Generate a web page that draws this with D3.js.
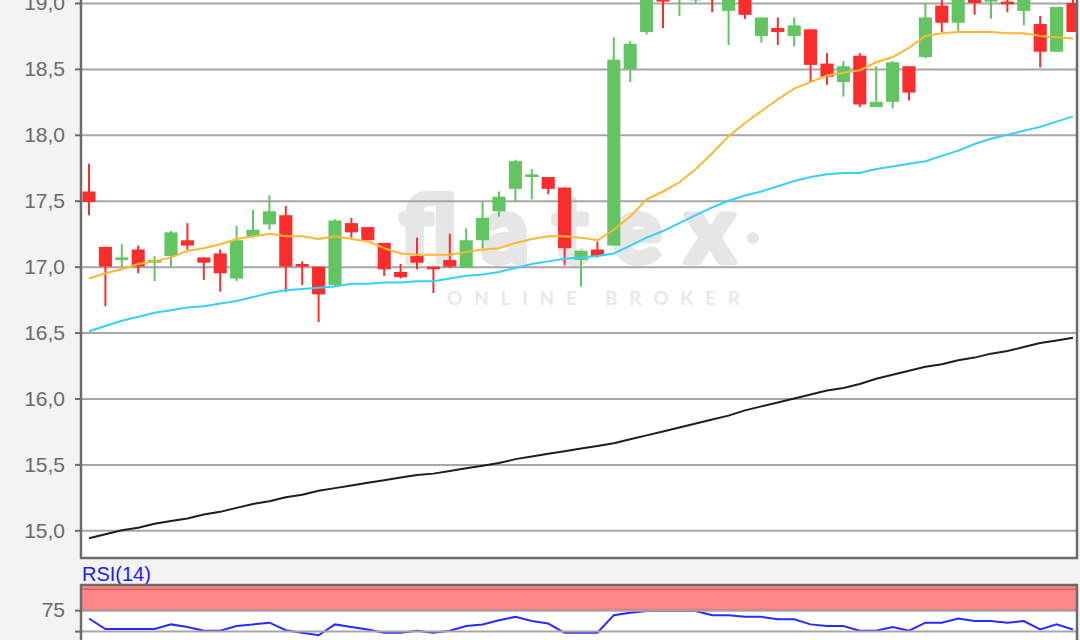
<!DOCTYPE html>
<html><head><meta charset="utf-8">
<script src="https://cdn.jsdelivr.net/npm/d3@7"></script>
<style>html,body{margin:0;padding:0;background:#f3f3f3;overflow:hidden}svg{display:block}</style>
</head><body><svg id="c" width="1080" height="640"></svg>
<script>
// ---- data ----
const days = d3.range(61);
const open  = [17.57,17.15,17.05,17.13,17.03,17.08,17.20,17.07,17.10,16.91,17.23,17.32,17.39,17.02,17.00,16.86,17.33,17.30,17.18,16.96,17.08,17.00,17.05,16.99,17.20,17.42,17.59,17.68,17.68,17.60,17.05,17.13,17.16,18.50,18.78,19.10,19.06,19.02,19.15,18.94,19.10,18.75,18.81,18.75,18.80,18.54,18.40,18.60,18.21,18.25,18.52,18.59,18.98,18.85,19.08,19.01,19.01,18.94,18.84,18.63,19.00];
const high  = [17.78,17.15,17.17,17.16,17.08,17.27,17.33,17.07,17.13,17.31,17.43,17.54,17.46,17.04,17.00,17.36,17.37,17.30,17.18,17.02,17.22,17.00,17.25,17.29,17.49,17.57,17.81,17.74,17.68,17.60,17.12,17.19,18.74,18.71,19.12,19.15,19.20,19.15,19.20,19.15,19.15,18.89,18.89,18.89,18.80,18.62,18.56,18.62,18.52,18.56,18.52,19.00,19.08,19.10,19.12,19.10,19.04,19.10,18.90,18.97,19.03];
const low   = [17.39,16.70,17.00,16.95,16.89,17.00,17.13,16.90,16.81,16.89,17.22,17.28,16.81,16.86,16.58,16.85,17.22,17.20,16.93,16.91,16.98,16.80,16.99,16.99,17.14,17.38,17.49,17.51,17.55,17.01,16.85,17.07,17.16,18.40,18.76,18.81,18.90,19.00,18.93,18.68,18.88,18.70,18.68,18.67,18.40,18.38,18.29,18.21,18.21,18.20,18.26,18.58,18.78,18.78,18.91,18.88,18.93,18.83,18.51,18.63,18.78];
const close = [17.49,17.00,17.07,17.00,17.05,17.26,17.16,17.03,16.95,17.20,17.28,17.42,17.00,17.00,16.79,17.35,17.26,17.20,16.98,16.92,17.03,16.98,17.00,17.20,17.37,17.53,17.80,17.70,17.59,17.14,17.12,17.08,18.57,18.69,19.08,19.01,19.12,19.10,19.08,19.10,18.91,18.89,18.78,18.83,18.53,18.44,18.52,18.23,18.25,18.55,18.32,18.89,18.85,19.05,19.00,19.06,18.99,19.06,18.63,18.97,18.78];
const maShort = [16.91,16.95,16.98,17.02,17.04,17.07,17.12,17.14,17.17,17.21,17.23,17.25,17.23,17.23,17.21,17.23,17.21,17.19,17.14,17.10,17.09,17.09,17.09,17.11,17.13,17.14,17.18,17.21,17.23,17.23,17.22,17.20,17.28,17.38,17.51,17.57,17.64,17.74,17.86,17.99,18.09,18.18,18.27,18.35,18.40,18.45,18.47,18.49,18.55,18.59,18.66,18.75,18.77,18.78,18.78,18.78,18.77,18.77,18.75,18.74,18.73];
const maMid = [16.51,16.55,16.59,16.62,16.65,16.67,16.69,16.70,16.72,16.74,16.77,16.80,16.82,16.83,16.84,16.85,16.87,16.87,16.88,16.88,16.89,16.89,16.91,16.93,16.94,16.96,16.99,17.02,17.04,17.06,17.07,17.08,17.10,17.16,17.22,17.27,17.33,17.39,17.45,17.50,17.54,17.57,17.61,17.65,17.68,17.70,17.71,17.71,17.74,17.76,17.78,17.80,17.84,17.88,17.93,17.97,18.00,18.03,18.06,18.10,18.14];
const maLong = [14.94,14.97,15.00,15.02,15.05,15.07,15.09,15.12,15.14,15.17,15.20,15.22,15.25,15.27,15.30,15.32,15.34,15.36,15.38,15.40,15.42,15.43,15.45,15.47,15.49,15.51,15.54,15.56,15.58,15.60,15.62,15.64,15.66,15.69,15.72,15.75,15.78,15.81,15.84,15.87,15.91,15.94,15.97,16.00,16.03,16.06,16.08,16.11,16.15,16.18,16.21,16.24,16.26,16.29,16.31,16.34,16.36,16.39,16.42,16.44,16.46];
const rsi = [65,52.4,52.4,52.4,52.4,58,55,50.5,50.5,56,58,60,51,48,45,58,55,52,48,48,50.5,48,50.5,56,58,63,67,62,59,48,48,48,69,72,74,74,74,74,69,69,67,67,64,64,58,56,56,50.5,50.5,55,50.5,60,60,65,62,62,60,62,52,58,52];
const priceTicks = [15.0,15.5,16.0,16.5,17.0,17.5,18.0,18.5,19.0];
const rsiGridTicks = [25,50,75];
const rsiLabelTicks = [75];
const rsiLabel = "RSI(14)";
const watermark = "flatex";
const watermarkSub = "ONLINE BROKER";

// ---- layout ----
const svg = d3.select("#c");
const L = 81, R = 1077, B = 558, T = -40;
const RT = 585;
const fmt = d => d3.format(".1f")(d).replace(".", ",");

const x = d3.scaleBand().domain(days).range([80.8, 1081.2]).paddingInner(0.2).paddingOuter(0.1);
const y = d3.scaleLinear().domain([14.79, 19.25]).range([B, -30]);
const ry = d3.scaleLinear().domain([0, 105]).range([673, RT]);
const cx = i => x(i) + x.bandwidth() / 2;

svg.append("rect").attr("width",1080).attr("height",640).attr("fill","#f3f3f3");

// main panel
svg.append("rect").attr("x",L).attr("y",T).attr("width",R-L).attr("height",B-T).attr("fill","#fff");
svg.append("defs").append("clipPath").attr("id","clipMain")
  .append("rect").attr("x",L+1).attr("y",T).attr("width",R-L-2).attr("height",B-T-1);
svg.select("defs").append("clipPath").attr("id","clipRsi")
  .append("rect").attr("x",L+1).attr("y",RT+1).attr("width",R-L-2).attr("height",200);

// watermark
const wm = svg.append("g").attr("fill","#e6e6e6");
wm.append("text").attr("x",400).attr("y",262).text(watermark)
  .attr("font-family","Lato, 'Open Sans', sans-serif").attr("font-weight",700).attr("font-size",92)
  .attr("textLength",334).attr("lengthAdjust","spacing")
  .attr("stroke","#e6e6e6").attr("stroke-width",7).attr("stroke-linejoin","round");
wm.append("circle").attr("cx",753).attr("cy",238).attr("r",6);
wm.append("text").attr("x",447).attr("y",305).text(watermarkSub)
  .attr("font-family","Lato, 'Open Sans', sans-serif").attr("font-weight",700).attr("font-size",19)
  .attr("textLength",293).attr("lengthAdjust","spacing").attr("fill","#e9e9e9");

// grid
const grid = svg.append("g").attr("transform",`translate(${L},0)`)
  .call(d3.axisLeft(y).tickValues(priceTicks).tickSize(-(R-L)).tickFormat(""));
grid.select(".domain").remove();
grid.selectAll("line").attr("stroke","#a6a6a6").attr("stroke-width",2);

// candles
const main = svg.append("g").attr("clip-path","url(#clipMain)");
const up = i => close[i] >= open[i];
const colUp = "#62c462", colDn = "#fa2d2d";
const cg = main.selectAll("g.c").data(days).join("g").attr("class","c");
cg.append("line").attr("x1",cx).attr("x2",cx)
  .attr("y1",i=>y(high[i])).attr("y2",i=>y(low[i]))
  .attr("stroke",i=>up(i)?colUp:colDn).attr("stroke-width",2);
cg.append("rect").attr("x",i=>x(i)).attr("width",x.bandwidth())
  .attr("y",i=>y(Math.max(open[i],close[i])))
  .attr("height",i=>Math.max(2,Math.abs(y(open[i])-y(close[i]))))
  .attr("fill",i=>up(i)?colUp:colDn);

// moving averages
const line = arr => d3.line().x(i=>cx(i)).y(i=>y(arr[i]))(days);
main.append("path").attr("d",line(maLong)).attr("fill","none").attr("stroke","#1e1e1e").attr("stroke-width",2);
main.append("path").attr("d",line(maMid)).attr("fill","none").attr("stroke","#35d0ff").attr("stroke-width",2);
main.append("path").attr("d",line(maShort)).attr("fill","none").attr("stroke","#ffb630").attr("stroke-width",2);

// axis labels + ticks
const ax = svg.append("g").attr("transform",`translate(${L},0)`)
  .call(d3.axisLeft(y).tickValues(priceTicks).tickSize(6).tickPadding(10).tickFormat(fmt));
ax.select(".domain").remove();
ax.selectAll("line").attr("stroke","#6b6b6b").attr("stroke-width",2);
ax.selectAll("text").attr("font-family","'Liberation Sans', Arial, sans-serif").attr("font-size",21).attr("fill","#6a6a6a");

// main frame
svg.append("path").attr("d",`M${L},${T}V${B}H${R}V${T}`).attr("fill","none").attr("stroke","#6b6b6b").attr("stroke-width",2.5);

// RSI panel
svg.append("text").attr("x",82).attr("y",581).text(rsiLabel)
  .attr("font-family","'Liberation Sans', Arial, sans-serif").attr("font-size",20).attr("fill","#1a1aff");
svg.append("rect").attr("x",L).attr("y",RT).attr("width",R-L).attr("height",200).attr("fill","#fff");
const rp = svg.append("g").attr("clip-path","url(#clipRsi)");
rp.append("rect").attr("x",L).attr("y",ry(105)).attr("width",R-L).attr("height",ry(75)-ry(105)).attr("fill","#ff8787");
const rgrid = svg.append("g").attr("transform",`translate(${L},0)`)
  .call(d3.axisLeft(ry).tickValues(rsiGridTicks).tickSize(-(R-L)).tickFormat(""));
rgrid.select(".domain").remove();
rgrid.selectAll("line").attr("stroke","#a6a6a6").attr("stroke-width",2);
rp.append("line").attr("x1",L).attr("x2",R).attr("y1",ry(100)).attr("y2",ry(100)).attr("stroke","#d65e5e").attr("stroke-width",1.5);
rp.append("line").attr("x1",L).attr("x2",R).attr("y1",ry(75)).attr("y2",ry(75)).attr("stroke","#d65e5e").attr("stroke-width",1.5);
rp.append("path").attr("d",d3.line().x(i=>cx(i)).y(i=>ry(rsi[i]))(days))
  .attr("fill","none").attr("stroke","#2a2aff").attr("stroke-width",2);
const rax = svg.append("g").attr("transform",`translate(${L},0)`)
  .call(d3.axisLeft(ry).tickValues(rsiGridTicks).tickSize(6).tickPadding(10).tickFormat(""));
rax.select(".domain").remove();
rax.selectAll("text").remove();
rax.selectAll("line").attr("stroke","#6b6b6b").attr("stroke-width",2);
svg.append("g").selectAll("text").data(rsiLabelTicks).join("text")
  .attr("x",L-16).attr("y",d=>ry(d)).attr("dy","0.35em").attr("text-anchor","end").text(d=>String(d))
  .attr("font-family","'Liberation Sans', Arial, sans-serif").attr("font-size",21).attr("fill","#6a6a6a");
svg.append("path").attr("d",`M${L},${RT+200}V${RT}H${R}V${RT+200}`).attr("fill","none").attr("stroke","#6b6b6b").attr("stroke-width",2.5);
</script></body></html>
